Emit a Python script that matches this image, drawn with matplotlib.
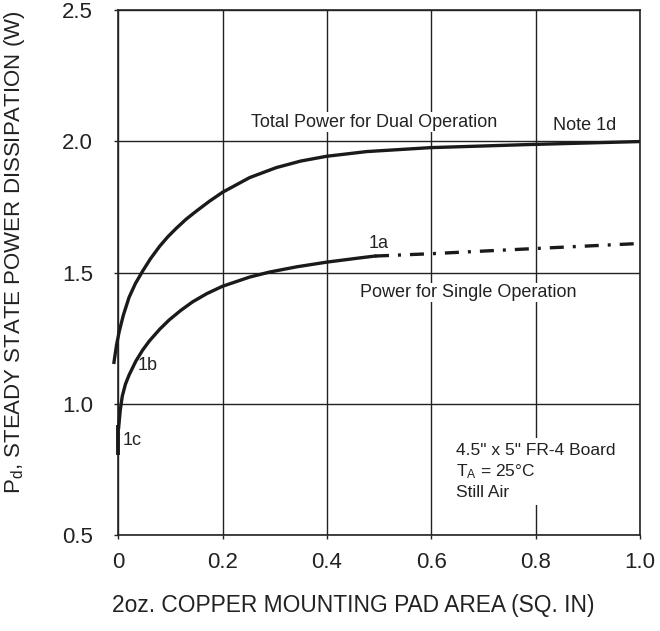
import matplotlib
matplotlib.use("Agg")
import matplotlib.pyplot as plt
import numpy as np

plt.rcParams['font.family'] = ['Liberation Sans', 'DejaVu Sans']

# curva potencia total (dual)
x_total = [-0.008, -0.003, 0.002, 0.01, 0.021, 0.033, 0.047, 0.062, 0.079, 0.095, 0.111, 0.13,
           0.149, 0.175, 0.2, 0.252, 0.303, 0.35, 0.399, 0.476, 0.598, 0.79, 0.996]
y_total = [1.158, 1.225, 1.275, 1.338, 1.406, 1.458, 1.506, 1.553, 1.599, 1.636, 1.668, 1.703,
           1.733, 1.772, 1.806, 1.862, 1.900, 1.925, 1.943, 1.961, 1.976, 1.988, 1.999]

# curva potencia simple (solida hasta 1a)
x_single = [0.001, 0.004, 0.008, 0.014, 0.021, 0.034, 0.047, 0.06, 0.08, 0.098, 0.12, 0.143,
            0.17, 0.2, 0.252, 0.29, 0.342, 0.40, 0.463, 0.492]
y_single = [0.91, 0.975, 1.03, 1.075, 1.11, 1.163, 1.205, 1.24, 1.285, 1.32, 1.356, 1.389,
            1.42, 1.448, 1.483, 1.502, 1.522, 1.54, 1.556, 1.563]
# tramo punto-raya
x_dash = [0.492, 0.6, 0.7, 0.833, 1.0]
y_dash = [1.563, 1.572, 1.582, 1.595, 1.611]
# segmento 1c
x_1c = [0.0, 0.0]
y_1c = [0.814, 0.912]

xticks = [0, 0.2, 0.4, 0.6, 0.8, 1.0]
xticklabels = ['0', '0.2', '0.4', '0.6', '0.8', '1.0']
yticks = [0.5, 1.0, 1.5, 2.0, 2.5]

col = '#222222'
fig = plt.figure(figsize=(6.6, 6.31), dpi=100)
ax = fig.add_axes([0.179, 0.152, 0.791, 0.832])

ax.set_xlim(0, 1.0)
ax.set_ylim(0.5, 2.5)
ax.set_xticks(xticks)
ax.set_xticklabels(xticklabels)
ax.set_yticks(yticks)
ax.tick_params(labelsize=16, length=3, width=1, colors=col)
ax.tick_params(axis='x', pad=9)
ax.tick_params(axis='y', pad=15)
ax.grid(True, color=col, lw=1.0)
ax.set_axisbelow(True)
for s in ax.spines.values():
    s.set_color(col)
    s.set_linewidth(1.2)

lw = 2.4
ax.plot(x_total, y_total, color='#1a1a1a', lw=lw, clip_on=False, zorder=3, solid_joinstyle='round')
ax.plot(x_single, y_single, color='#1a1a1a', lw=lw, clip_on=False, zorder=3, solid_joinstyle='round')
ax.plot(x_dash, y_dash, color='#1a1a1a', lw=lw, dashes=(4.2, 2.7, 0.9, 2.7), zorder=3)
ax.plot(x_1c, y_1c, color='#1a1a1a', lw=2.8, clip_on=False, zorder=3)

bb = dict(facecolor='white', edgecolor='none', pad=1)
fs = 13
ax.text(0.49, 2.073, 'Total Power for Dual Operation', fontsize=fs, ha='center', va='center', color=col, bbox=bb, zorder=4)
ax.text(0.894, 2.061, 'Note 1d', fontsize=fs, ha='center', va='center', color=col)
ax.text(0.498, 1.611, '1a', fontsize=fs, ha='center', va='center', color=col)
ax.text(0.671, 1.424, 'Power for Single Operation', fontsize=fs, ha='center', va='center', color=col, bbox=bb, zorder=4)
ax.text(0.037, 1.145, '1b', fontsize=fs, ha='left', va='center', color=col)
ax.text(0.008, 0.859, '1c', fontsize=fs, ha='left', va='center', color=col)
ax.text(0.648, 0.742, '4.5" x 5" FR-4 Board\n$\\mathregular{T_A}$ = 25°C\nStill Air', fontsize=12.5,
        ha='left', va='center', color=col, linespacing=1.35,
        bbox=dict(facecolor='white', edgecolor='none', pad=3), zorder=4)

ax.set_xlabel('2oz. COPPER MOUNTING PAD AREA (SQ. IN)', fontsize=16.4, color=col)
ax.xaxis.set_label_coords(0.45, -0.112)
ax.set_ylabel('P$\\mathregular{_d}$, STEADY STATE POWER DISSIPATION (W)', fontsize=16, color=col)
ax.yaxis.set_label_coords(-0.174, 0.539)

fig.savefig('out.png', dpi=100)
